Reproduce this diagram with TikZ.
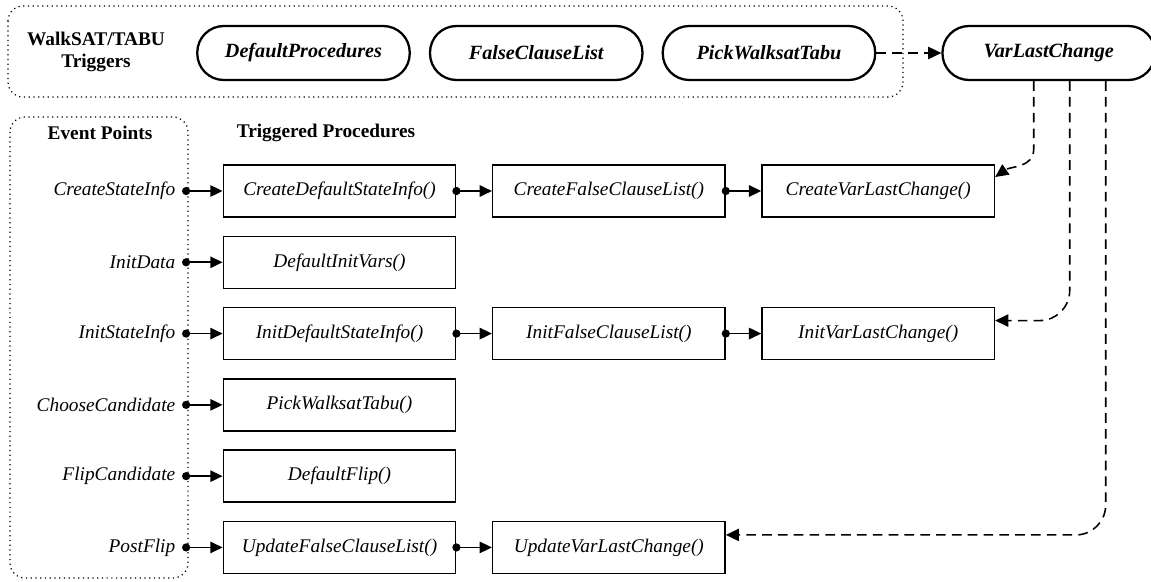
\documentclass[tikz,border=0pt]{standalone}
\usepackage{fontspec}
\setmainfont{Liberation Serif}
\usetikzlibrary{positioning,calc,arrows.meta}

\tikzset{
  pill/.style={draw, rectangle, rounded corners=0.53cm, line width=1.3pt, minimum width=4.25cm, minimum height=1.08cm, font=\fontsize{11.5}{13}\selectfont\bfseries\itshape},
  proc/.style={draw, rectangle, line width=0.8pt, minimum width=4.65cm, minimum height=1.04cm, font=\fontsize{11}{13}\selectfont\itshape},
  evt/.style={font=\fontsize{11}{13}\selectfont\itshape, inner xsep=3.7pt},
  heading/.style={font=\fontsize{11}{13}\selectfont\bfseries},
  group/.style={draw, dotted, line width=0.7pt, rounded corners=0.3cm},
  flow/.style={{Circle[length=4.6pt]}-{Triangle[length=7pt,width=6.5pt]}, line width=0.9pt},
  chain/.style={flow, shorten <=-2.3pt},
  trig/.style={-{Triangle[length=7.5pt,width=7pt]}, line width=0.9pt, dash pattern=on 5.5pt off 3.5pt}
}

\begin{document}
\begin{tikzpicture}[x=0.02cm, y=0.02cm, node distance=1.426cm, auto]
\useasboundingbox (0,0) rectangle (1151,-581);

% triggers
\draw[group] (8,-6) rectangle (903,-97);
\node (wt) [heading, align=center] at (96,-52) {WalkSAT/TABU\\Triggers};
\node (dp) [pill] at (303.5,-53) {DefaultProcedures};
\node (fcl) [pill] [right=0.36cm of dp] {FalseClauseList};
\node (pwt) [pill] [right=0.36cm of fcl] {PickWalksatTabu};
\node (vlc) [pill] [right=1.3cm of pwt] {VarLastChange};

% event points
\draw[group] (10,-117) rectangle (188,-578);
\node (ep) [heading] at (100,-133) {Event Points};
\node (tp) [heading] at (326,-133) {Triggered Procedures};

\node (cds) [proc] at (339.5,-191) {CreateDefaultStateInfo()};
\node (div) [proc] [below of = cds] {DefaultInitVars()};
\node (ids) [proc] [below of = div] {InitDefaultStateInfo()};
\node (pwtp) [proc] [below of = ids] {PickWalksatTabu()};
\node (dfl) [proc] [below of = pwtp] {DefaultFlip()};
\node (ufc) [proc] [below of = dfl] {UpdateFalseClauseList()};

\node (cfc) [proc] [right=0.71cm of cds] {CreateFalseClauseList()};
\node (cvl) [proc] [right=0.71cm of cfc] {CreateVarLastChange()};
\node (ifc) [proc] [right=0.71cm of ids] {InitFalseClauseList()};
\node (ivl) [proc] [right=0.71cm of ifc] {InitVarLastChange()};
\node (uvl) [proc] [right=0.71cm of ufc] {UpdateVarLastChange()};

\node (csi) [evt] [left=0.81cm of cds] {CreateStateInfo};
\node (ind) [evt] [left=0.81cm of div] {InitData};
\node (isi) [evt] [left=0.81cm of ids] {InitStateInfo};
\node (chc) [evt] [left=0.81cm of pwtp] {ChooseCandidate};
\node (flc) [evt] [left=0.81cm of dfl] {FlipCandidate};
\node (pfl) [evt] [left=0.81cm of ufc] {PostFlip};

\draw[flow] (csi.east) -- (cds.west);
\draw[flow] (ind.east) -- (div.west);
\draw[flow] (isi.east) -- (ids.west);
\draw[flow] (chc.east) -- (pwtp.west);
\draw[flow] (flc.east) -- (dfl.west);
\draw[flow] (pfl.east) -- (ufc.west);
\draw[chain] (cds.east) -- (cfc.west);
\draw[chain] (cfc.east) -- (cvl.west);
\draw[chain] (ids.east) -- (ifc.west);
\draw[chain] (ifc.east) -- (ivl.west);
\draw[chain] (ufc.east) -- (uvl.west);

% var last change
\draw[trig] (pwt) -- (vlc);
\draw[trig] ($(vlc.south)+(-15,0)$) -- ++(0,-68) to[out=-90, in=35] ($(cvl.east)+(0,14)$);
\draw[trig, rounded corners=0.6cm] ($(vlc.south)+(21,0)$) |- ($(ivl.east)+(0,13)$);
\draw[trig, rounded corners=0.6cm] ($(vlc.south)+(57,0)$) |- ($(uvl.east)+(0,12.5)$);

\end{tikzpicture}
\end{document}
